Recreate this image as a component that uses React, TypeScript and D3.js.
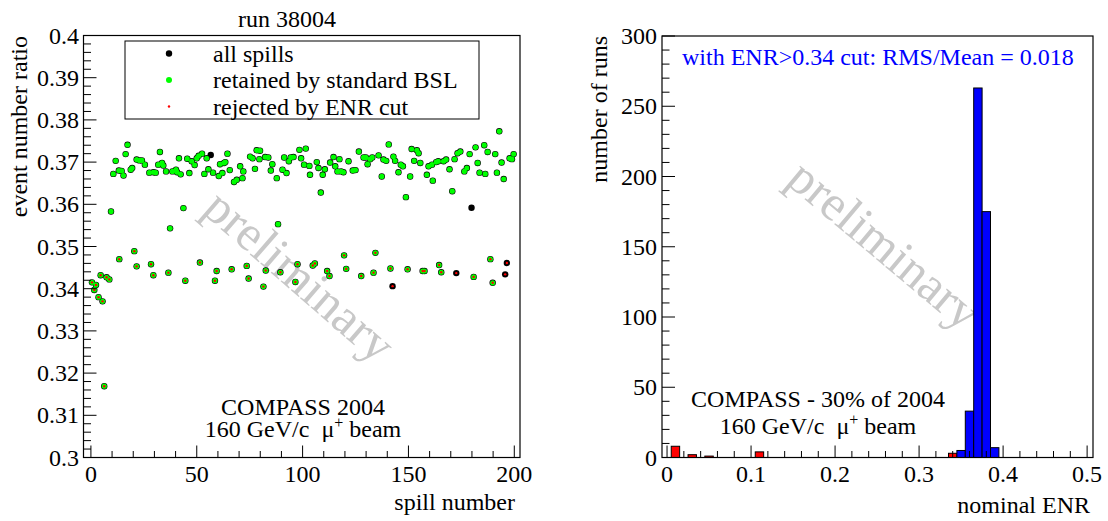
import React from 'react';
import * as d3 from 'd3';

const W = 1108;
const H = 521;

// ---------- left panel: event number ratio vs spill number ----------
// retained by standard BSL, accepted by ENR cut (upper band)
const keptSpill = [10.6, 11.7, 13.2, 14.5, 15.4, 16.4, 17.3, 18.8, 19.5, 21.6, 22.9, 24.1, 25.5, 27.6, 29.5, 30.6, 31.8, 32.6, 33.6, 34.2, 35.5, 38.5, 40.2, 40.7, 41.6, 42.4, 45.5, 46.5, 47.6, 49.0, 50.0, 50.9, 52.5, 53.6, 54.7, 55.5, 57.7, 60.4, 61.0, 62.1, 62.9, 63.5, 64.5, 65.6, 67.6, 68.9, 70.5, 71.6, 72.0, 75.2, 76.4, 77.5, 78.3, 79.9, 79.6, 82.3, 83.8, 85.0, 85.7, 87.8, 90.5, 91.3, 92.4, 93.5, 94.4, 95.7, 98.5, 99.3, 100.7, 101.5, 103.2, 103.5, 106.7, 107.5, 109.5, 110.5, 113.0, 114.6, 115.4, 116.5, 117.4, 118.2, 119.3, 121.7, 123.7, 125.0, 126.6, 128.8, 129.9, 130.7, 131.9, 132.9, 135.9, 137.4, 138.2, 139.5, 140.7, 142.9, 143.7, 145.3, 146.4, 147.4, 150.8, 151.5, 152.7, 154.0, 154.8, 155.6, 158.7, 159.5, 161.1, 161.5, 163.1, 164.1, 166.6, 167.8, 169.4, 171.8, 173.2, 174.5, 176.4, 177.6, 178.9, 181.7, 182.7, 183.6, 185.8, 186.3, 187.4, 191.0, 191.8, 192.9, 194.0, 195.0, 197.8, 198.9, 199.7, 9.5, 37.4, 43.7, 88.4, 108.6, 148.8, 170.7];
const keptRatio = [0.3672, 0.3703, 0.3680, 0.3679, 0.3668, 0.3719, 0.3741, 0.3682, 0.3686, 0.3706, 0.3704, 0.3704, 0.3694, 0.3675, 0.3676, 0.3675, 0.3694, 0.3724, 0.3698, 0.3692, 0.3678, 0.3678, 0.3682, 0.3676, 0.3709, 0.3671, 0.3708, 0.3674, 0.3702, 0.3693, 0.3709, 0.3715, 0.3720, 0.3672, 0.3709, 0.3683, 0.3675, 0.3667, 0.3695, 0.3674, 0.3698, 0.3700, 0.3720, 0.3681, 0.3653, 0.3658, 0.3690, 0.3662, 0.3678, 0.3713, 0.3709, 0.3684, 0.3728, 0.3727, 0.3707, 0.3712, 0.3711, 0.3680, 0.3695, 0.3662, 0.3682, 0.3711, 0.3674, 0.3702, 0.3711, 0.3712, 0.3729, 0.3709, 0.3694, 0.3732, 0.3691, 0.3670, 0.3700, 0.3686, 0.3670, 0.3683, 0.3699, 0.3712, 0.3690, 0.3678, 0.3707, 0.3678, 0.3676, 0.3702, 0.3680, 0.3681, 0.3725, 0.3711, 0.3711, 0.3695, 0.3707, 0.3711, 0.3716, 0.3666, 0.3706, 0.3703, 0.3742, 0.3713, 0.3703, 0.3676, 0.3694, 0.3690, 0.3666, 0.3731, 0.3703, 0.3728, 0.3721, 0.3698, 0.3670, 0.3690, 0.3694, 0.3656, 0.3700, 0.3702, 0.3702, 0.3706, 0.3683, 0.3707, 0.3721, 0.3725, 0.3678, 0.3686, 0.3719, 0.3735, 0.3698, 0.3675, 0.3740, 0.3672, 0.3724, 0.3719, 0.3675, 0.3773, 0.3699, 0.3660, 0.3709, 0.3707, 0.3719, 0.3583, 0.3543, 0.3591, 0.3553, 0.3628, 0.3617, 0.3631];

// retained by standard BSL but rejected by ENR cut (lower band)
const keptCutSpill = [0.5, 1.6, 2.4, 3.6, 4.6, 5.5, 6.3, 7.4, 8.7, 13.4, 20.5, 21.6, 28.4, 29.5, 36.6, 44.6, 51.5, 58.6, 59.4, 66.5, 73.6, 74.5, 81.5, 82.6, 89.5, 96.6, 97.6, 104.8, 105.8, 111.6, 112.7, 119.6, 120.6, 127.7, 133.5, 134.4, 141.5, 149.6, 156.7, 157.6, 164.5, 165.5, 180.8, 188.7, 189.8];
const keptCutRatio = [0.3415, 0.3397, 0.3409, 0.3380, 0.3432, 0.3370, 0.3169, 0.3427, 0.3422, 0.3470, 0.3489, 0.3453, 0.3458, 0.3432, 0.3438, 0.3419, 0.3462, 0.3419, 0.3442, 0.3446, 0.3454, 0.3424, 0.3405, 0.3443, 0.3439, 0.3416, 0.3458, 0.3455, 0.3460, 0.3442, 0.3430, 0.3479, 0.3447, 0.3430, 0.3438, 0.3485, 0.3448, 0.3446, 0.3442, 0.3442, 0.3456, 0.3439, 0.3428, 0.3470, 0.3414];

// not retained by BSL, rejected by ENR cut
const droppedCutSpill = [142.5, 172.6, 195.7, 196.5];
const droppedCutRatio = [0.3406, 0.3437, 0.3434, 0.3461];

// not retained by BSL, not rejected by ENR cut
const droppedSpill = [56.6, 179.8];
const droppedRatio = [0.3717, 0.3592];

const leftYTicks = [0.3, 0.31, 0.32, 0.33, 0.34, 0.35, 0.36, 0.37, 0.38, 0.39, 0.4];
const leftXTicks = [0, 50, 100, 150, 200];

// ---------- right panel: histogram of nominal ENR ----------
const binWidth = 0.01;
const redBinLow = [0.005, 0.025, 0.045, 0.105, 0.335];
const redCounts = [8, 2, 1, 4, 3];
const blueBinLow = [0.345, 0.355, 0.365, 0.375, 0.385];
const blueCounts = [5, 33, 263, 175, 7];

const rightYTicks = [0, 50, 100, 150, 200, 250, 300];
const rightXTicks = [0, 0.1, 0.2, 0.3, 0.4, 0.5];

const FONT = "'Liberation Serif', 'Times New Roman', Times, serif";

function zip(xs: number[], ys: number[]) {
  return xs.map((x, i) => ({ x, y: ys[i] }));
}

export default function App() {
  // left scales
  const lx = d3.scaleLinear().domain([-3.5, 202.7]).range([83.5, 520]);
  const ly = d3.scaleLinear().domain([0.3, 0.4]).range([457.5, 35.5]);
  // right scales
  const rx = d3.scaleLinear().domain([-0.006, 0.507]).range([662, 1093]);
  const ry = d3.scaleLinear().domain([0, 300]).range([457.5, 36]);

  const allPts = [
    ...zip(keptSpill, keptRatio),
    ...zip(keptCutSpill, keptCutRatio),
    ...zip(droppedCutSpill, droppedCutRatio),
    ...zip(droppedSpill, droppedRatio),
  ];
  const retainedPts = [...zip(keptSpill, keptRatio), ...zip(keptCutSpill, keptCutRatio)];
  const rejectedPts = [...zip(keptCutSpill, keptCutRatio), ...zip(droppedCutSpill, droppedCutRatio)];

  const lyMinor = d3.range(0, 51).map((i) => 0.3 + i * 0.002);
  const lxMinor = d3.range(0, 21).map((i) => i * 10);
  const ryMinor = d3.range(0, 31).map((i) => i * 10);
  const rxMinor = d3.range(0, 26).map((i) => i * 0.02);

  const [lx0, lx1] = lx.range();
  const [ly0, ly1] = ly.range();
  const [rx0, rx1] = rx.range();
  const [ry0, ry1] = ry.range();

  const textStyle = { fontFamily: FONT, fontSize: 24, fill: '#000' } as const;

  return (
    <svg
      width={W}
      height={H}
      viewBox={`0 0 ${W} ${H}`}
      style={{ position: 'absolute', left: 0, top: 0, background: '#fff' }}
    >
      <rect x={0} y={0} width={W} height={H} fill="#fff" />

      {/* ===== LEFT PANEL ===== */}
      <text x={287} y={27} textAnchor="middle" style={textStyle}>run 38004</text>

      {/* watermark */}
      <text
        transform={`translate(296,280) rotate(41)`}
        y={11}
        textAnchor="middle"
        style={{ fontFamily: FONT, fontSize: 50, fill: '#c8c8c8' }}
      >
        preliminary
      </text>

      {/* points */}
      <g>
        {allPts.map((p, i) => (
          <circle key={'a' + i} cx={lx(p.x)} cy={ly(p.y)} r={3.2} fill="#000" />
        ))}
        {retainedPts.map((p, i) => (
          <circle key={'g' + i} cx={lx(p.x)} cy={ly(p.y)} r={2.6} fill="#00ff00" />
        ))}
        {rejectedPts.map((p, i) => (
          <circle key={'r' + i} cx={lx(p.x)} cy={ly(p.y)} r={1.2} fill="#ff0000" />
        ))}
      </g>

      {/* frame */}
      <rect x={lx0} y={ly1} width={lx1 - lx0} height={ly0 - ly1} fill="none" stroke="#000" strokeWidth={1.2} />

      {/* y ticks */}
      {lyMinor.map((t, i) => (
        <line key={'lym' + i} x1={lx0} x2={lx0 + (i % 5 === 0 ? 13 : 7.5)} y1={ly(t)} y2={ly(t)} stroke="#000" strokeWidth={1} />
      ))}
      {leftYTicks.map((t) => (
        <text key={'lyl' + t} x={79} y={ly(t) + 8} textAnchor="end" style={textStyle}>
          {String(+t.toFixed(2))}
        </text>
      ))}
      {/* x ticks */}
      {lxMinor.map((t, i) => (
        <line key={'lxm' + i} x1={lx(t)} x2={lx(t)} y1={ly0} y2={ly0 - (i % 5 === 0 ? 12 : 6.5)} stroke="#000" strokeWidth={1} />
      ))}
      {leftXTicks.map((t) => (
        <text key={'lxl' + t} x={lx(t)} y={482} textAnchor="middle" style={textStyle}>
          {String(t)}
        </text>
      ))}
      <text x={515} y={510} textAnchor="end" style={textStyle}>spill number</text>
      <text transform={`translate(27,36) rotate(-90)`} textAnchor="end" style={textStyle}>event number ratio</text>

      {/* legend */}
      <rect x={125} y={41} width={354} height={78} fill="#fff" stroke="#000" strokeWidth={1} />
      <circle cx={169} cy={53.5} r={3.2} fill="#000" />
      <text x={213} y={61.5} style={textStyle}>all spills</text>
      <circle cx={169} cy={80} r={3} fill="#00ff00" />
      <text x={213} y={88} style={textStyle}>retained by standard BSL</text>
      <circle cx={169} cy={106.5} r={1.2} fill="#ff0000" />
      <text x={213} y={114.5} style={textStyle}>rejected by ENR cut</text>

      <text x={303} y={415} textAnchor="middle" style={textStyle}>COMPASS 2004</text>
      <text x={303} y={437} textAnchor="middle" style={textStyle}>
        160 GeV/c{'\u00a0\u00a0'}μ<tspan dy={-9} fontSize={16}>+</tspan>
        <tspan dy={9}> beam</tspan>
      </text>

      {/* ===== RIGHT PANEL ===== */}
      <text
        transform={`translate(881,249) rotate(40)`}
        y={11}
        textAnchor="middle"
        style={{ fontFamily: FONT, fontSize: 50, fill: '#c8c8c8' }}
      >
        preliminary
      </text>

      {redBinLow.map((b, i) => (
        <rect key={'rb' + i} x={rx(b)} y={ry(redCounts[i])} width={rx(b + binWidth) - rx(b)} height={ry(0) - ry(redCounts[i])} fill="#ff0000" stroke="#000" strokeWidth={1} />
      ))}
      {blueBinLow.map((b, i) => (
        <rect key={'bb' + i} x={rx(b)} y={ry(blueCounts[i])} width={rx(b + binWidth) - rx(b)} height={ry(0) - ry(blueCounts[i])} fill="#0000ff" stroke="#000" strokeWidth={1} />
      ))}

      <rect x={rx0} y={ry1} width={rx1 - rx0} height={ry0 - ry1} fill="none" stroke="#000" strokeWidth={1.2} />

      {ryMinor.map((t, i) => (
        <line key={'rym' + i} x1={rx0} x2={rx0 + (i % 5 === 0 ? 13 : 7.5)} y1={ry(t)} y2={ry(t)} stroke="#000" strokeWidth={1} />
      ))}
      {rightYTicks.map((t) => (
        <text key={'ryl' + t} x={657} y={ry(t) + 8} textAnchor="end" style={textStyle}>
          {String(t)}
        </text>
      ))}
      {rxMinor.map((t, i) => (
        <line key={'rxm' + i} x1={rx(t)} x2={rx(t)} y1={ry0} y2={ry0 - (i % 5 === 0 ? 12 : 6.5)} stroke="#000" strokeWidth={1} />
      ))}
      {rightXTicks.map((t) => (
        <text key={'rxl' + t} x={rx(t)} y={482} textAnchor="middle" style={textStyle}>
          {String(+t.toFixed(1))}
        </text>
      ))}
      <text x={1090} y={513} textAnchor="end" style={textStyle}>nominal ENR</text>
      <text transform={`translate(607,36) rotate(-90)`} textAnchor="end" style={textStyle}>number of runs</text>

      <text x={682} y={65} style={{ ...textStyle, fill: '#0000ff' }}>with ENR&gt;0.34 cut: RMS/Mean = 0.018</text>

      <text x={818} y={407} textAnchor="middle" style={textStyle}>COMPASS - 30% of 2004</text>
      <text x={818} y={434} textAnchor="middle" style={textStyle}>
        160 GeV/c{'\u00a0\u00a0'}μ<tspan dy={-9} fontSize={16}>+</tspan>
        <tspan dy={9}> beam</tspan>
      </text>
    </svg>
  );
}
